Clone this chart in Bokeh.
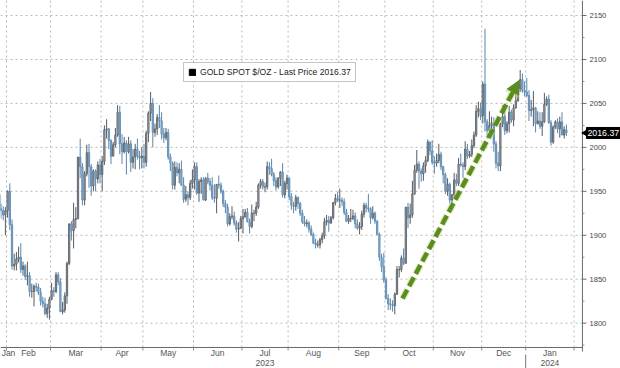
import numpy as np
import pandas as pd
from bokeh.plotting import figure
from bokeh.core.properties import value
from bokeh.models import ColumnDataSource, Range1d, Legend, LegendItem, Arrow, NormalHead
from bokeh.embed import file_html
from bokeh.resources import INLINE

# ---------------- data (GOLD SPOT $/OZ, daily OHLC) ----------------
start_date = "2023-01-26"
holidays = ["2023-04-07", "2023-12-25", "2024-01-01"]

opens = [
    1946, 1930, 1928, 1923,
    1928, 1950, 1912, 1865, 1867, 1873, 1875, 1861, 1865, 1853, 1854, 1836, 1836, 1842, 1841, 1835, 1825, 1822, 1811, 1817,
    1827, 1837, 1836, 1855, 1847, 1813, 1815, 1831, 1868, 1913, 1905, 1918, 1919, 1989, 1978, 1940, 1970, 1994, 1978, 1956, 1973, 1964, 1980,
    1969, 1984, 2020, 2021, 2008, 1990, 2003, 2014, 2040, 2004, 1995, 2005, 1995, 2004, 1983, 1989, 1998, 1990, 1988,
    1990, 1983, 2016, 2039, 2050, 2017, 2021, 2034, 2030, 2015, 2011, 2017, 1989, 1982, 1957, 1977, 1971, 1975, 1957, 1941, 1946, 1943, 1959,
    1963, 1978, 1948, 1961, 1963, 1940, 1965, 1961, 1957, 1943, 1942, 1958, 1957, 1950, 1936, 1932, 1913, 1921, 1922, 1914, 1907, 1908,
    1919, 1921, 1926, 1915, 1910, 1925, 1925, 1932, 1957, 1961, 1955, 1955, 1978, 1976, 1969, 1962, 1955, 1965, 1972, 1946, 1959,
    1965, 1944, 1934, 1933, 1943, 1936, 1925, 1915, 1913, 1914, 1907, 1901, 1891, 1889, 1889, 1895, 1899, 1915, 1917, 1914, 1920, 1937, 1942,
    1940, 1940, 1938, 1926, 1916, 1919, 1919, 1922, 1913, 1908, 1910, 1924, 1934, 1931, 1930, 1920, 1925, 1916, 1901, 1875, 1864,
    1849, 1828, 1822, 1821, 1820, 1833, 1861, 1861, 1874, 1868, 1932, 1920, 1923, 1947, 1974, 1981, 1973, 1970, 1979, 1985, 2006, 1996,
    1983, 1982, 1985, 1992, 1978, 1969, 1950, 1958, 1940, 1946, 1963, 1959, 1981, 1980, 1978, 1998, 1990, 1992, 2002, 2014, 2041, 2044,
    2036, 2072, 2029, 2019, 2025, 2028, 2004, 1982, 1979, 2027, 2035, 2019, 2027, 2040, 2031, 2045, 2053, 2067, 2077, 2065,
    2063, 2059, 2042, 2043, 2045, 2027, 2030, 2024, 2029, 2049, 2055, 2028, 2006, 2023, 2029, 2021, 2029, 2014, 2020,
]
highs = [
    1949, 1936, 1933, 1932,
    1951, 1959, 1918, 1879, 1881, 1887, 1891, 1870, 1867, 1870, 1858, 1845, 1844, 1846, 1845, 1840, 1830, 1829, 1822, 1830,
    1846, 1841, 1858, 1858, 1851, 1824, 1835, 1870, 1913, 1916, 1937, 1932, 1989, 2010, 1982, 1973, 2003, 2004, 1981, 1975, 1975, 1984, 1987,
    1990, 2025, 2032, 2022, 2009, 2006, 2022, 2048, 2047, 2015, 2012, 2008, 2012, 2008, 1998, 2004, 2010, 1996, 2000,
    2004, 2019, 2041, 2063, 2056, 2027, 2038, 2048, 2040, 2022, 2022, 2021, 1993, 1984, 1984, 1983, 1982, 1985, 1966, 1956, 1950, 1963, 1975,
    1983, 1983, 1964, 1966, 1966, 1966, 1971, 1965, 1966, 1958, 1958, 1968, 1960, 1952, 1940, 1936, 1925, 1933, 1927, 1917, 1915, 1922,
    1930, 1930, 1931, 1919, 1935, 1929, 1938, 1959, 1964, 1964, 1960, 1984, 1983, 1987, 1972, 1966, 1966, 1973, 1982, 1962, 1969,
    1966, 1948, 1938, 1946, 1944, 1938, 1929, 1922, 1918, 1916, 1911, 1903, 1896, 1894, 1897, 1903, 1920, 1923, 1922, 1922, 1938, 1947, 1949,
    1953, 1943, 1942, 1930, 1923, 1930, 1929, 1926, 1918, 1915, 1928, 1937, 1937, 1947, 1932, 1933, 1927, 1917, 1903, 1879, 1880,
    1852, 1833, 1828, 1826, 1835, 1865, 1865, 1877, 1885, 1932, 1937, 1936, 1962, 1980, 1997, 1984, 1976, 1983, 1990, 2009, 2007, 2008,
    1990, 1993, 2004, 1995, 1979, 1971, 1965, 1960, 1947, 1971, 1970, 1988, 1993, 1983, 2007, 2004, 1996, 2009, 2018, 2048, 2052, 2051,
    2075, 2135, 2032, 2041, 2035, 2034, 2007, 1995, 2028, 2048, 2047, 2030, 2047, 2043, 2049, 2071, 2070, 2088, 2084, 2075,
    2079, 2065, 2054, 2064, 2046, 2041, 2040, 2040, 2062, 2058, 2060, 2031, 2025, 2031, 2033, 2035, 2040, 2024, 2026,
]
lows = [
    1918, 1919, 1917, 1900,
    1920, 1906, 1861, 1860, 1860, 1869, 1857, 1854, 1849, 1843, 1830, 1829, 1819, 1836, 1832, 1820, 1818, 1809, 1806, 1804,
    1826, 1830, 1834, 1843, 1813, 1810, 1812, 1822, 1866, 1894, 1885, 1908, 1918, 1965, 1934, 1934, 1967, 1954, 1945, 1950, 1950, 1959, 1959,
    1950, 1980, 2010, 1998, 1981, 1990, 2000, 2012, 1992, 1981, 1993, 1969, 1993, 1972, 1976, 1975, 1986, 1975, 1976,
    1976, 1978, 2006, 2030, 2000, 2012, 2014, 2022, 2009, 2005, 2008, 1986, 1973, 1952, 1952, 1967, 1959, 1956, 1937, 1938, 1934, 1940, 1953,
    1952, 1946, 1938, 1947, 1940, 1939, 1958, 1951, 1940, 1937, 1925, 1953, 1947, 1932, 1925, 1910, 1911, 1918, 1911, 1903, 1893, 1907,
    1902, 1920, 1917, 1902, 1908, 1916, 1922, 1930, 1953, 1952, 1949, 1952, 1969, 1967, 1956, 1951, 1953, 1956, 1943, 1942, 1952,
    1940, 1929, 1925, 1928, 1930, 1922, 1913, 1910, 1909, 1903, 1899, 1890, 1885, 1886, 1885, 1891, 1896, 1911, 1904, 1913, 1918, 1934, 1938,
    1931, 1933, 1923, 1915, 1913, 1915, 1917, 1908, 1906, 1901, 1906, 1920, 1926, 1926, 1913, 1918, 1913, 1900, 1871, 1858, 1846,
    1827, 1815, 1815, 1813, 1810, 1832, 1852, 1858, 1866, 1868, 1908, 1913, 1920, 1946, 1971, 1953, 1961, 1962, 1971, 1983, 1991, 1980,
    1970, 1978, 1982, 1974, 1959, 1947, 1945, 1936, 1932, 1942, 1956, 1956, 1978, 1965, 1974, 1987, 1988, 1989, 1999, 2012, 2034, 2031,
    2027, 2018, 2010, 2016, 2017, 1995, 1976, 1973, 1973, 2023, 2014, 2016, 2017, 2028, 2024, 2044, 2052, 2063, 2062, 2058,
    2057, 2030, 2035, 2024, 2017, 2026, 2021, 2013, 2028, 2047, 2027, 2002, 2004, 2021, 2016, 2011, 2014, 2010, 2013,
]
closes = [
    1930, 1928, 1923, 1928,
    1950, 1912, 1865, 1867, 1873, 1875, 1861, 1865, 1853, 1854, 1836, 1836, 1842, 1841, 1835, 1825, 1822, 1811, 1817, 1827,
    1837, 1836, 1855, 1847, 1813, 1815, 1831, 1868, 1913, 1905, 1918, 1919, 1989, 1978, 1940, 1970, 1994, 1978, 1956, 1973, 1964, 1980, 1969,
    1984, 2020, 2021, 2008, 1990, 2003, 2014, 2040, 2004, 1995, 2005, 1995, 2004, 1983, 1989, 1998, 1990, 1988, 1990,
    1983, 2016, 2039, 2050, 2017, 2021, 2034, 2030, 2015, 2011, 2017, 1989, 1982, 1957, 1977, 1971, 1975, 1957, 1941, 1946, 1943, 1959, 1963,
    1978, 1948, 1961, 1963, 1940, 1965, 1961, 1957, 1943, 1942, 1958, 1957, 1950, 1936, 1932, 1913, 1921, 1922, 1914, 1907, 1908, 1919,
    1921, 1926, 1915, 1910, 1925, 1925, 1932, 1957, 1961, 1955, 1955, 1978, 1976, 1969, 1962, 1955, 1965, 1972, 1946, 1959, 1965,
    1944, 1934, 1933, 1943, 1936, 1925, 1915, 1913, 1914, 1907, 1901, 1891, 1889, 1889, 1895, 1899, 1915, 1917, 1914, 1920, 1937, 1942, 1940,
    1940, 1938, 1926, 1916, 1919, 1919, 1922, 1913, 1908, 1910, 1924, 1934, 1931, 1930, 1920, 1925, 1916, 1901, 1875, 1864, 1849,
    1828, 1822, 1821, 1820, 1833, 1861, 1861, 1874, 1868, 1932, 1920, 1923, 1947, 1974, 1981, 1973, 1970, 1979, 1985, 2006, 1996, 1983,
    1982, 1985, 1992, 1978, 1969, 1950, 1958, 1940, 1946, 1963, 1959, 1981, 1980, 1978, 1998, 1990, 1992, 2002, 2014, 2041, 2044, 2036,
    2072, 2029, 2019, 2025, 2028, 2004, 1982, 1979, 2027, 2035, 2019, 2027, 2040, 2031, 2045, 2053, 2067, 2077, 2065, 2063,
    2059, 2042, 2043, 2045, 2027, 2030, 2024, 2029, 2049, 2055, 2028, 2006, 2023, 2029, 2021, 2029, 2014, 2020, 2016.37,
]

last_price = 2016.37
legend_text = "GOLD SPOT $/OZ - Last Price 2016.37"
month_names = ["Jan", "Feb", "Mar", "Apr", "May", "Jun", "Jul", "Aug", "Sep", "Oct", "Nov", "Dec", "Jan"]
year_names = ["2023", "2024"]
y_ticks = [1800, 1850, 1900, 1950, 2000, 2050, 2100, 2150]
y_tick_labels = ["1800", "1850", "1900", "1950", "2000", "2050", "2100", "2150"]
y_minor_ticks = [1775, 1825, 1875, 1925, 1975, 2025, 2075, 2125]

# trend arrow (trading day index, price)
arrow_x = [183.5, 236.5]
arrow_y = [1828, 2076]

# ---------------- layout constants ----------------
W, H = 620, 368
X0, X1 = 0.77, 282.6            # visible trading-day span (incl. right label area)
AXIS_X = 265.3                  # price axis line position
Y0, Y1 = 1748.4, 2167.1         # visible price span (incl. bottom label area)
Y_AXIS = 1772.3                 # time axis line position
PX_X = W / (X1 - X0)            # px per trading day
PX_Y = H / (Y1 - Y0)            # px per dollar
Y_MONTH = Y_AXIS - 5.5 / PX_Y
Y_YEAR = Y_AXIS - 15.5 / PX_Y

# ---------------- trading calendar (x = trading-day index) ----------------
cal = pd.bdate_range(start_date, "2024-02-29")
cal = cal[~cal.isin(pd.to_datetime(holidays))]
n = len(closes)
x = np.arange(n)

periods = cal.to_period("M")
boundaries = [i - 0.5 for i in range(1, len(cal)) if periods[i] != periods[i - 1]]
boundaries = [b for b in boundaries if b < AXIS_X]
year_boundary = [b for b in boundaries if cal[int(b + 0.5)].month == 1]

label_pos = []
uniq = pd.period_range("2023-01", "2024-01", freq="M")
for k, per in enumerate(uniq):
    idx = np.where(periods == per)[0]
    cpos = (idx[0] + idx[-1]) / 2.0
    if k == 0:
        cpos = 4.4
    label_pos.append(float(cpos))
year_pos = [label_pos[6], label_pos[12]]

o = np.array(opens, dtype=float)
c = np.array(closes, dtype=float)
up = c >= o
src = ColumnDataSource(dict(
    x=x, open=o, high=highs, low=lows, close=c,
    top=np.maximum(o, c), bottom=np.minimum(o, c),
    fill=np.where(up, "#a2aab2", "#8cb4d8"),
    line=np.where(up, "#555b61", "#5886ae"),
))

FONT = "Liberation Sans"
AX = "#6a6a6a"
GRID = "#b9b9b9"

p = figure(width=W, height=H, x_range=Range1d(X0, X1), y_range=Range1d(Y0, Y1),
           output_backend="svg", toolbar_location=None, x_axis_location=None,
           y_axis_location=None, min_border_left=0, min_border_top=0,
           min_border_right=0, min_border_bottom=0)
p.outline_line_color = None
p.background_fill_color = "white"
p.border_fill_color = "white"
p.grid.visible = False

# grid: horizontal at price ticks, vertical at month boundaries
p.segment(x0=X0, x1=AXIS_X, y0=y_ticks, y1=y_ticks, line_color=GRID, line_dash="2 3", line_width=1)
p.segment(x0=boundaries, x1=boundaries, y0=Y_AXIS, y1=Y1, line_color=GRID, line_dash="2 3", line_width=1)

# time axis (bottom)
p.segment(x0=X0, x1=AXIS_X, y0=Y_AXIS, y1=Y_AXIS, line_color=AX, line_width=1)
p.segment(x0=boundaries, x1=boundaries, y0=Y_AXIS, y1=Y_AXIS - 3.0 / PX_Y, line_color="#8a8a8a", line_width=1)
p.segment(x0=year_boundary, x1=year_boundary, y0=Y_AXIS - 7.0 / PX_Y, y1=Y0, line_color="#777777", line_width=1)
p.text(x=label_pos, y=Y_MONTH, text=month_names, text_font=value(FONT), text_font_size="8.5px",
       text_color="#555555", text_align="center", text_baseline="middle")
p.text(x=year_pos, y=Y_YEAR, text=year_names, text_font=value(FONT), text_font_size="8.5px",
       text_color="#555555", text_align="center", text_baseline="middle")

# price axis (right)
p.segment(x0=AXIS_X, x1=AXIS_X, y0=Y_AXIS - 4.0 / PX_Y, y1=Y1, line_color=AX, line_width=1)
p.segment(x0=AXIS_X, x1=AXIS_X + 4.0 / PX_X, y0=y_ticks, y1=y_ticks, line_color=AX, line_width=1)
p.segment(x0=AXIS_X, x1=AXIS_X + 2.0 / PX_X, y0=y_minor_ticks, y1=y_minor_ticks,
          line_color="#8a8a8a", line_width=1)
p.text(x=AXIS_X + 7.0 / PX_X, y=y_ticks, text=y_tick_labels, text_font=value(FONT),
       text_font_size="7.6px", text_color="#444444", text_baseline="middle", text_align="left")

# candles
p.segment(x0="x", y0="low", x1="x", y1="high", line_color="line", line_width=1, source=src)
p.vbar(x="x", width=0.6, top="top", bottom="bottom", fill_color="fill",
       line_color="line", line_width=0.8, source=src)

# trend arrow
green = "#5b8c1f"
p.add_layout(Arrow(x_start=arrow_x[0], y_start=arrow_y[0], x_end=arrow_x[1], y_end=arrow_y[1],
                   line_color="#c5dd8a", line_width=7, line_alpha=0.55, line_dash="10 4",
                   end=NormalHead(size=16, fill_color="#c5dd8a", fill_alpha=0.55, line_alpha=0)))
p.add_layout(Arrow(x_start=arrow_x[0], y_start=arrow_y[0], x_end=arrow_x[1], y_end=arrow_y[1],
                   line_color=green, line_width=4.5, line_dash="10 4",
                   end=NormalHead(size=13, fill_color=green, line_color=green, line_width=1)))

# last price badge on the price axis
badge = p.quad(left=AXIS_X + 4.0 / PX_X, right=X1, bottom=last_price - 5.5 / PX_Y,
               top=last_price + 5.5 / PX_Y, fill_color="black", line_color="black")
p.scatter(x=AXIS_X + 4.0 / PX_X, y=last_price, marker="triangle", angle=np.pi / 2,
          size=8, fill_color="black", line_color="black")
p.text(x=AXIS_X + 5.0 / PX_X, y=last_price, text=["%.2f" % last_price], text_font=value(FONT),
       text_font_size="8.8px", text_color="white", text_baseline="middle", text_align="left")

# legend (black square swatch taken from the last-price badge)
legend = Legend(items=[LegendItem(label=legend_text, renderers=[badge])], location=(183, 286))
legend.label_text_font = FONT
legend.label_text_font_size = "8.6px"
legend.label_text_color = "#222222"
legend.border_line_color = "#8a8a8a"
legend.border_line_width = 1
legend.background_fill_color = "white"
legend.background_fill_alpha = 1
legend.padding = 4
legend.margin = 0
legend.spacing = 0
legend.glyph_width = 8
legend.glyph_height = 8
legend.label_height = 9
legend.label_standoff = 4
p.add_layout(legend)

open("out.html", "w").write(file_html(p, INLINE))
